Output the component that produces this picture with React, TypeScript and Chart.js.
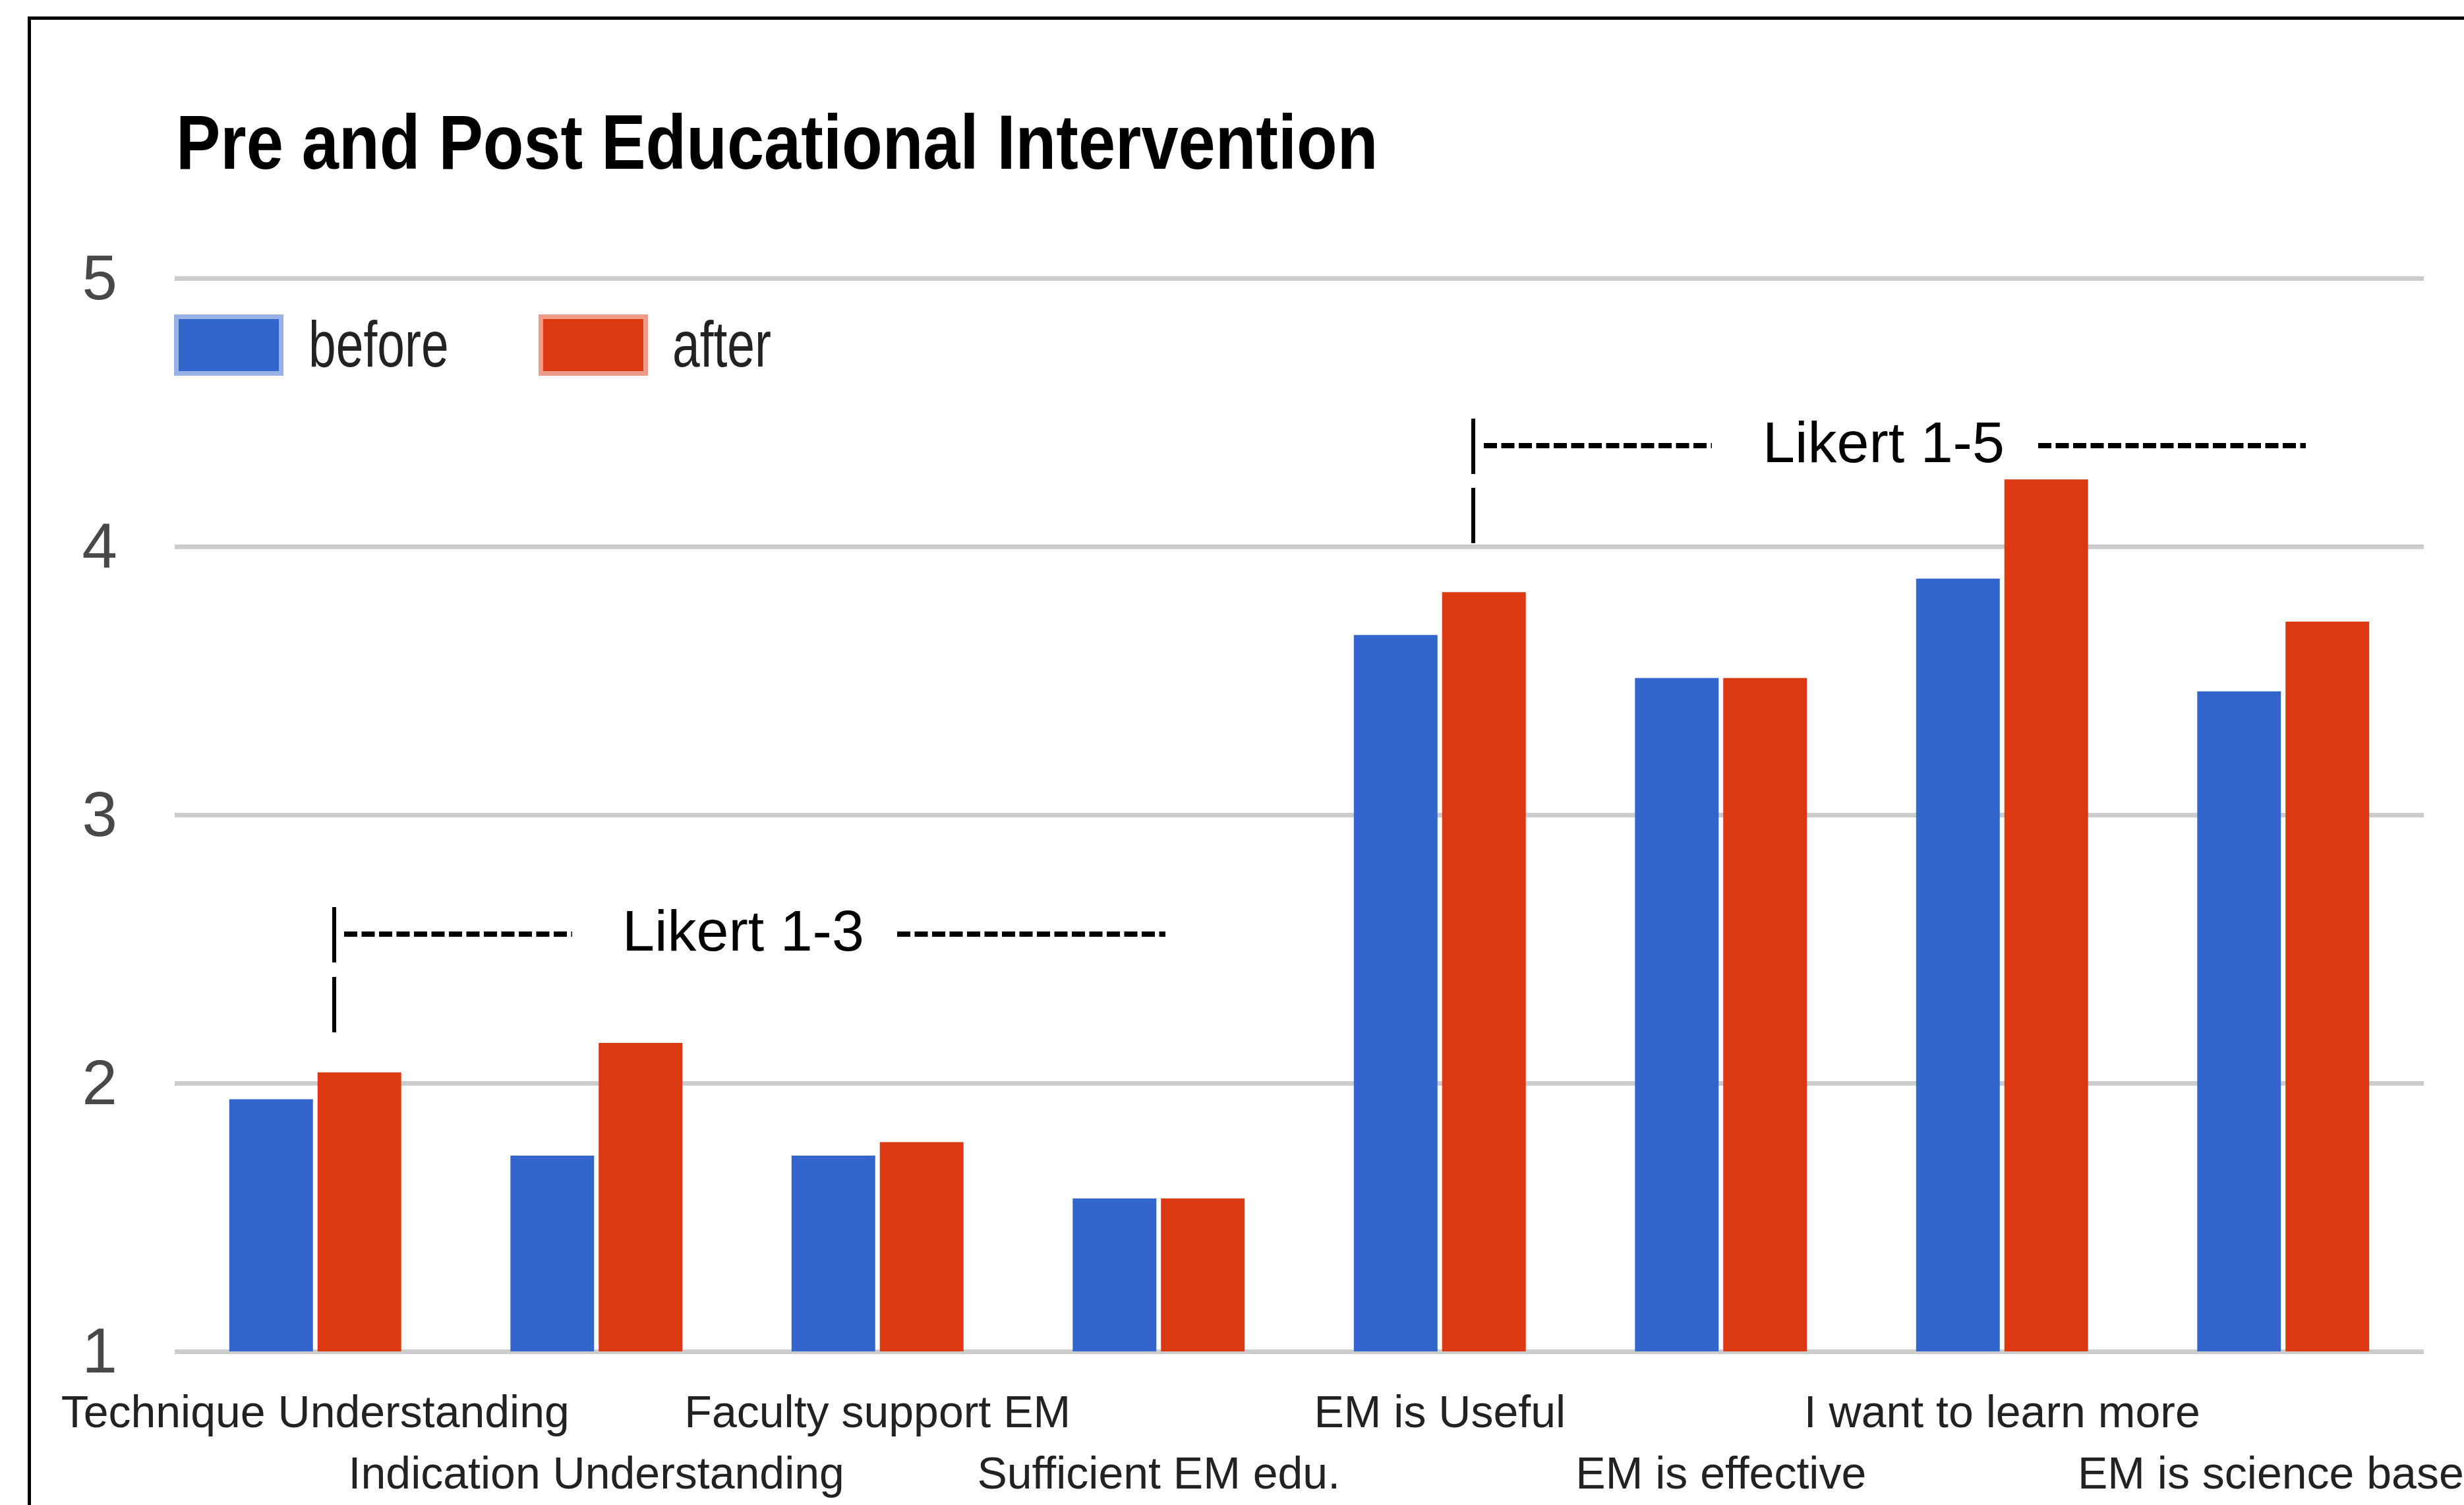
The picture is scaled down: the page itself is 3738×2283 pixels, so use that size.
import React, { useEffect, useRef } from 'react';
import { Chart, registerables } from 'chart.js';

Chart.register(...registerables);

// ---- data ----
const categories = [
  'Technique Understanding',
  'Indication Understanding',
  'Faculty support EM',
  'Sufficient EM edu.',
  'EM is Useful',
  'EM is effective',
  'I want to learn more',
  'EM is science based',
];
const seriesNames = ['before', 'after'];
const beforeValues = [1.94, 1.73, 1.73, 1.57, 3.67, 3.51, 3.88, 3.46];
const afterValues = [2.04, 2.15, 1.78, 1.57, 3.83, 3.51, 4.25, 3.72];
const yMin = 1;
const yMax = 5;
const yStep = 1;
const TITLE = 'Pre and Post Educational Intervention';
const annotationLabels = ['Likert 1-3', 'Likert 1-5'];

// ---- styles ----
const BLUE = '#3366CC';
const RED = '#DC3912';
const BLUE_LIGHT = '#99B2E5';
const RED_LIGHT = '#ED9C88';
const FONT = '"Liberation Sans", Arial, Helvetica, sans-serif';

const VIEW_W = 3738;
const VIEW_H = 2283;
const CANVAS_W = 4100;
const AREA_LEFT = 265;
const AREA_RIGHT = 3677;
const AREA_TOP = 422;
const AREA_BOTTOM = 2050;

function scaledText(ctx: CanvasRenderingContext2D, text: string, x: number, y: number, font: string, sx: number, color: string) {
  ctx.save();
  ctx.translate(x, y);
  ctx.scale(sx, 1);
  ctx.font = font;
  ctx.fillStyle = color;
  ctx.textAlign = 'left';
  ctx.textBaseline = 'alphabetic';
  ctx.fillText(text, 0, 0);
  ctx.restore();
}

function dashedLine(ctx: CanvasRenderingContext2D, x0: number, x1: number, y: number) {
  ctx.save();
  ctx.strokeStyle = '#000';
  ctx.lineWidth = 8;
  ctx.lineCap = 'butt';
  ctx.setLineDash([20, 6.5]);
  ctx.beginPath();
  ctx.moveTo(x0, y);
  ctx.lineTo(x1, y);
  ctx.stroke();
  ctx.restore();
}

function vBar(ctx: CanvasRenderingContext2D, x: number, y0: number, y1: number) {
  ctx.save();
  ctx.fillStyle = '#000';
  ctx.fillRect(x - 3, y0, 6, y1 - y0);
  ctx.restore();
}

const decorPlugin = {
  id: 'decor',
  beforeDraw(chart: any) {
    const ctx = chart.ctx as CanvasRenderingContext2D;
    ctx.save();
    ctx.fillStyle = '#ffffff';
    ctx.fillRect(0, 0, chart.width, chart.height);
    ctx.restore();
  },
  afterDraw(chart: any) {
    const ctx = chart.ctx as CanvasRenderingContext2D;
    ctx.save();
    // frame (top and left edges)
    ctx.fillStyle = '#000';
    ctx.fillRect(42, 25, chart.width - 42, 5);
    ctx.fillRect(42, 25, 5, chart.height - 25);

    // title
    scaledText(ctx, TITLE, 267, 256, `bold 117px ${FONT}`, 0.863, '#000');

    // legend
    const legend = [
      { name: seriesNames[0], fill: BLUE, light: BLUE_LIGHT, bx: 264, tx: 468 },
      { name: seriesNames[1], fill: RED, light: RED_LIGHT, bx: 817, tx: 1020 },
    ];
    for (const item of legend) {
      ctx.fillStyle = item.light;
      ctx.fillRect(item.bx, 477, 166, 93);
      ctx.fillStyle = item.fill;
      ctx.fillRect(item.bx + 7, 484, 152, 79);
      scaledText(ctx, item.name, item.tx, 556, `98px ${FONT}`, 0.765, '#222');
    }

    // Likert 1-3 annotation
    vBar(ctx, 507, 1376, 1460);
    vBar(ctx, 507, 1482, 1566);
    dashedLine(ctx, 522, 868, 1417);
    dashedLine(ctx, 1361, 1768, 1417);
    scaledText(ctx, annotationLabels[0], 944, 1442, `88px ${FONT}`, 1, '#000');

    // Likert 1-5 annotation
    vBar(ctx, 2235, 635, 719);
    vBar(ctx, 2235, 740, 824);
    dashedLine(ctx, 2251, 2597, 676);
    dashedLine(ctx, 3092, 3498, 676);
    scaledText(ctx, annotationLabels[1], 2674, 701, `88px ${FONT}`, 1, '#000');

    ctx.restore();
  },
};

export default function App() {
  const canvasRef = useRef<HTMLCanvasElement | null>(null);

  useEffect(() => {
    const canvas = canvasRef.current;
    if (!canvas) return;
    const labels = categories.map((c, i) => (i % 2 === 1 ? ['', c] : c));
    const chart = new Chart(canvas, {
      type: 'bar',
      data: {
        labels,
        datasets: [
          {
            label: seriesNames[0],
            data: beforeValues,
            backgroundColor: BLUE,
            borderWidth: 0,
            barPercentage: 0.948,
            categoryPercentage: 0.628,
          },
          {
            label: seriesNames[1],
            data: afterValues,
            backgroundColor: RED,
            borderWidth: 0,
            barPercentage: 0.948,
            categoryPercentage: 0.628,
          },
        ],
      },
      options: {
        responsive: false,
        maintainAspectRatio: false,
        animation: false,
        devicePixelRatio: 1,
        events: [],
        layout: {
          padding: { left: 0, right: CANVAS_W - AREA_RIGHT, top: AREA_TOP, bottom: 0 },
        },
        plugins: {
          legend: { display: false },
          title: { display: false },
          tooltip: { enabled: false },
        },
        scales: {
          x: {
            grid: { display: false, drawTicks: false },
            border: { display: false },
            ticks: {
              autoSkip: false,
              maxRotation: 0,
              minRotation: 0,
              padding: 50,
              color: '#222',
              font: { family: FONT, size: 68, lineHeight: 93 / 68 },
            },
            afterFit: (s: any) => {
              s.height = VIEW_H - AREA_BOTTOM;
            },
          },
          y: {
            min: yMin,
            max: yMax,
            grid: { color: '#CCCCCC', lineWidth: 7, drawTicks: false },
            border: { display: false },
            ticks: {
              stepSize: yStep,
              padding: 87,
              color: '#484848',
              font: { family: FONT, size: 96, lineHeight: '12px' },
              callback: (v: any) => ['', String(v)],
            },
            afterFit: (s: any) => {
              s.width = AREA_LEFT;
            },
          },
        },
      },
      plugins: [decorPlugin],
    } as any);
    return () => chart.destroy();
  }, []);

  return (
    <div
      style={{
        position: 'absolute',
        left: 0,
        top: 0,
        width: VIEW_W,
        height: VIEW_H,
        overflow: 'hidden',
        background: '#fff',
      }}
    >
      <canvas
        ref={canvasRef}
        width={CANVAS_W}
        height={VIEW_H}
        style={{ display: 'block', width: CANVAS_W, height: VIEW_H }}
      />
    </div>
  );
}
